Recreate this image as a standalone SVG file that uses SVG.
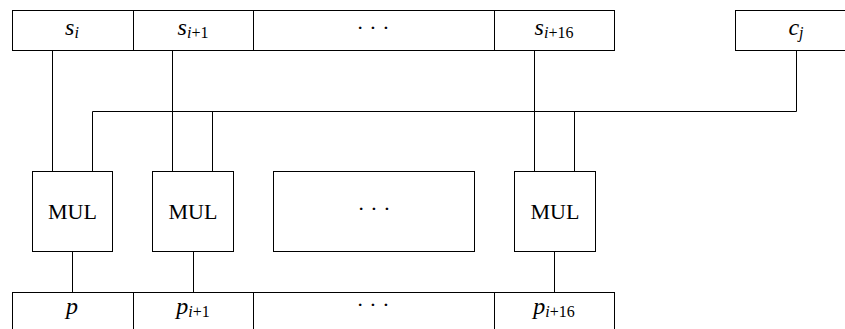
<svg xmlns="http://www.w3.org/2000/svg" width="845" height="329" viewBox="0 0 845 329">
<style>
.box{fill:#fff;stroke:#000;stroke-width:1}
.ln{fill:none;stroke:#000;stroke-width:1}
.t{font-family:"Liberation Serif","Times New Roman",serif;font-size:22px;text-anchor:middle;fill:#000}
.m{font-style:italic;font-size:24px}
.sub{font-size:16px;font-style:normal}
.subi{font-size:16px;font-style:italic}
</style>
<rect width="845" height="329" fill="#fff"/>
<g id="connectors">
<path class="ln" d="M52.5 50.5V171.5M172.5 50.5V171.5M534.5 50.5V171.5M796.5 50.5V111.5H92.5V171.5M212.5 111.5V171.5M574.5 111.5V171.5M72.5 251.5V292.5M193.5 251.5V292.5M554.5 251.5V292.5"/>
</g>
<g id="s-row">
<rect class="box" x="12.5" y="10.5" width="121" height="40"/>
<rect class="box" x="133.5" y="10.5" width="120" height="40"/>
<rect class="box" x="253.5" y="10.5" width="241" height="40"/>
<rect class="box" x="494.5" y="10.5" width="120" height="40"/>
<text class="t" x="72" y="35"><tspan class="m">s</tspan><tspan class="subi" dy="3">i</tspan></text>
<text class="t" x="193" y="35"><tspan class="m">s</tspan><tspan class="subi" dy="3">i</tspan><tspan class="sub">+1</tspan></text>
<text class="t" x="373" y="35">· · ·</text>
<text class="t" x="554" y="35"><tspan class="m">s</tspan><tspan class="subi" dy="3">i</tspan><tspan class="sub">+16</tspan></text>
</g>
<g id="c-box">
<rect class="box" x="735.5" y="10.5" width="120" height="40"/>
<text class="t" x="796" y="35"><tspan class="m">c</tspan><tspan class="subi" dy="3">j</tspan></text>
</g>
<g id="mul1">
<rect class="box" x="32.5" y="171.5" width="80" height="80"/>
<text class="t" x="72.5" y="219">MUL</text>
</g>
<g id="mul2">
<rect class="box" x="152.5" y="171.5" width="81" height="80"/>
<text class="t" x="193" y="219">MUL</text>
</g>
<g id="mul-dots">
<rect class="box" x="273.5" y="171.5" width="201" height="80"/>
<text class="t" x="374" y="216">· · ·</text>
</g>
<g id="mul3">
<rect class="box" x="514.5" y="171.5" width="81" height="80"/>
<text class="t" x="555" y="219">MUL</text>
</g>
<g id="p-row">
<rect class="box" x="12.5" y="292.5" width="121" height="40"/>
<rect class="box" x="133.5" y="292.5" width="120" height="40"/>
<rect class="box" x="253.5" y="292.5" width="241" height="40"/>
<rect class="box" x="494.5" y="292.5" width="120" height="40"/>
<text class="t" x="72" y="314"><tspan class="m">p</tspan></text>
<text class="t" x="193" y="314"><tspan class="m">p</tspan><tspan class="subi" dy="3">i</tspan><tspan class="sub">+1</tspan></text>
<text class="t" x="373" y="312">· · ·</text>
<text class="t" x="554" y="314"><tspan class="m">p</tspan><tspan class="subi" dy="3">i</tspan><tspan class="sub">+16</tspan></text>
</g>
</svg>
